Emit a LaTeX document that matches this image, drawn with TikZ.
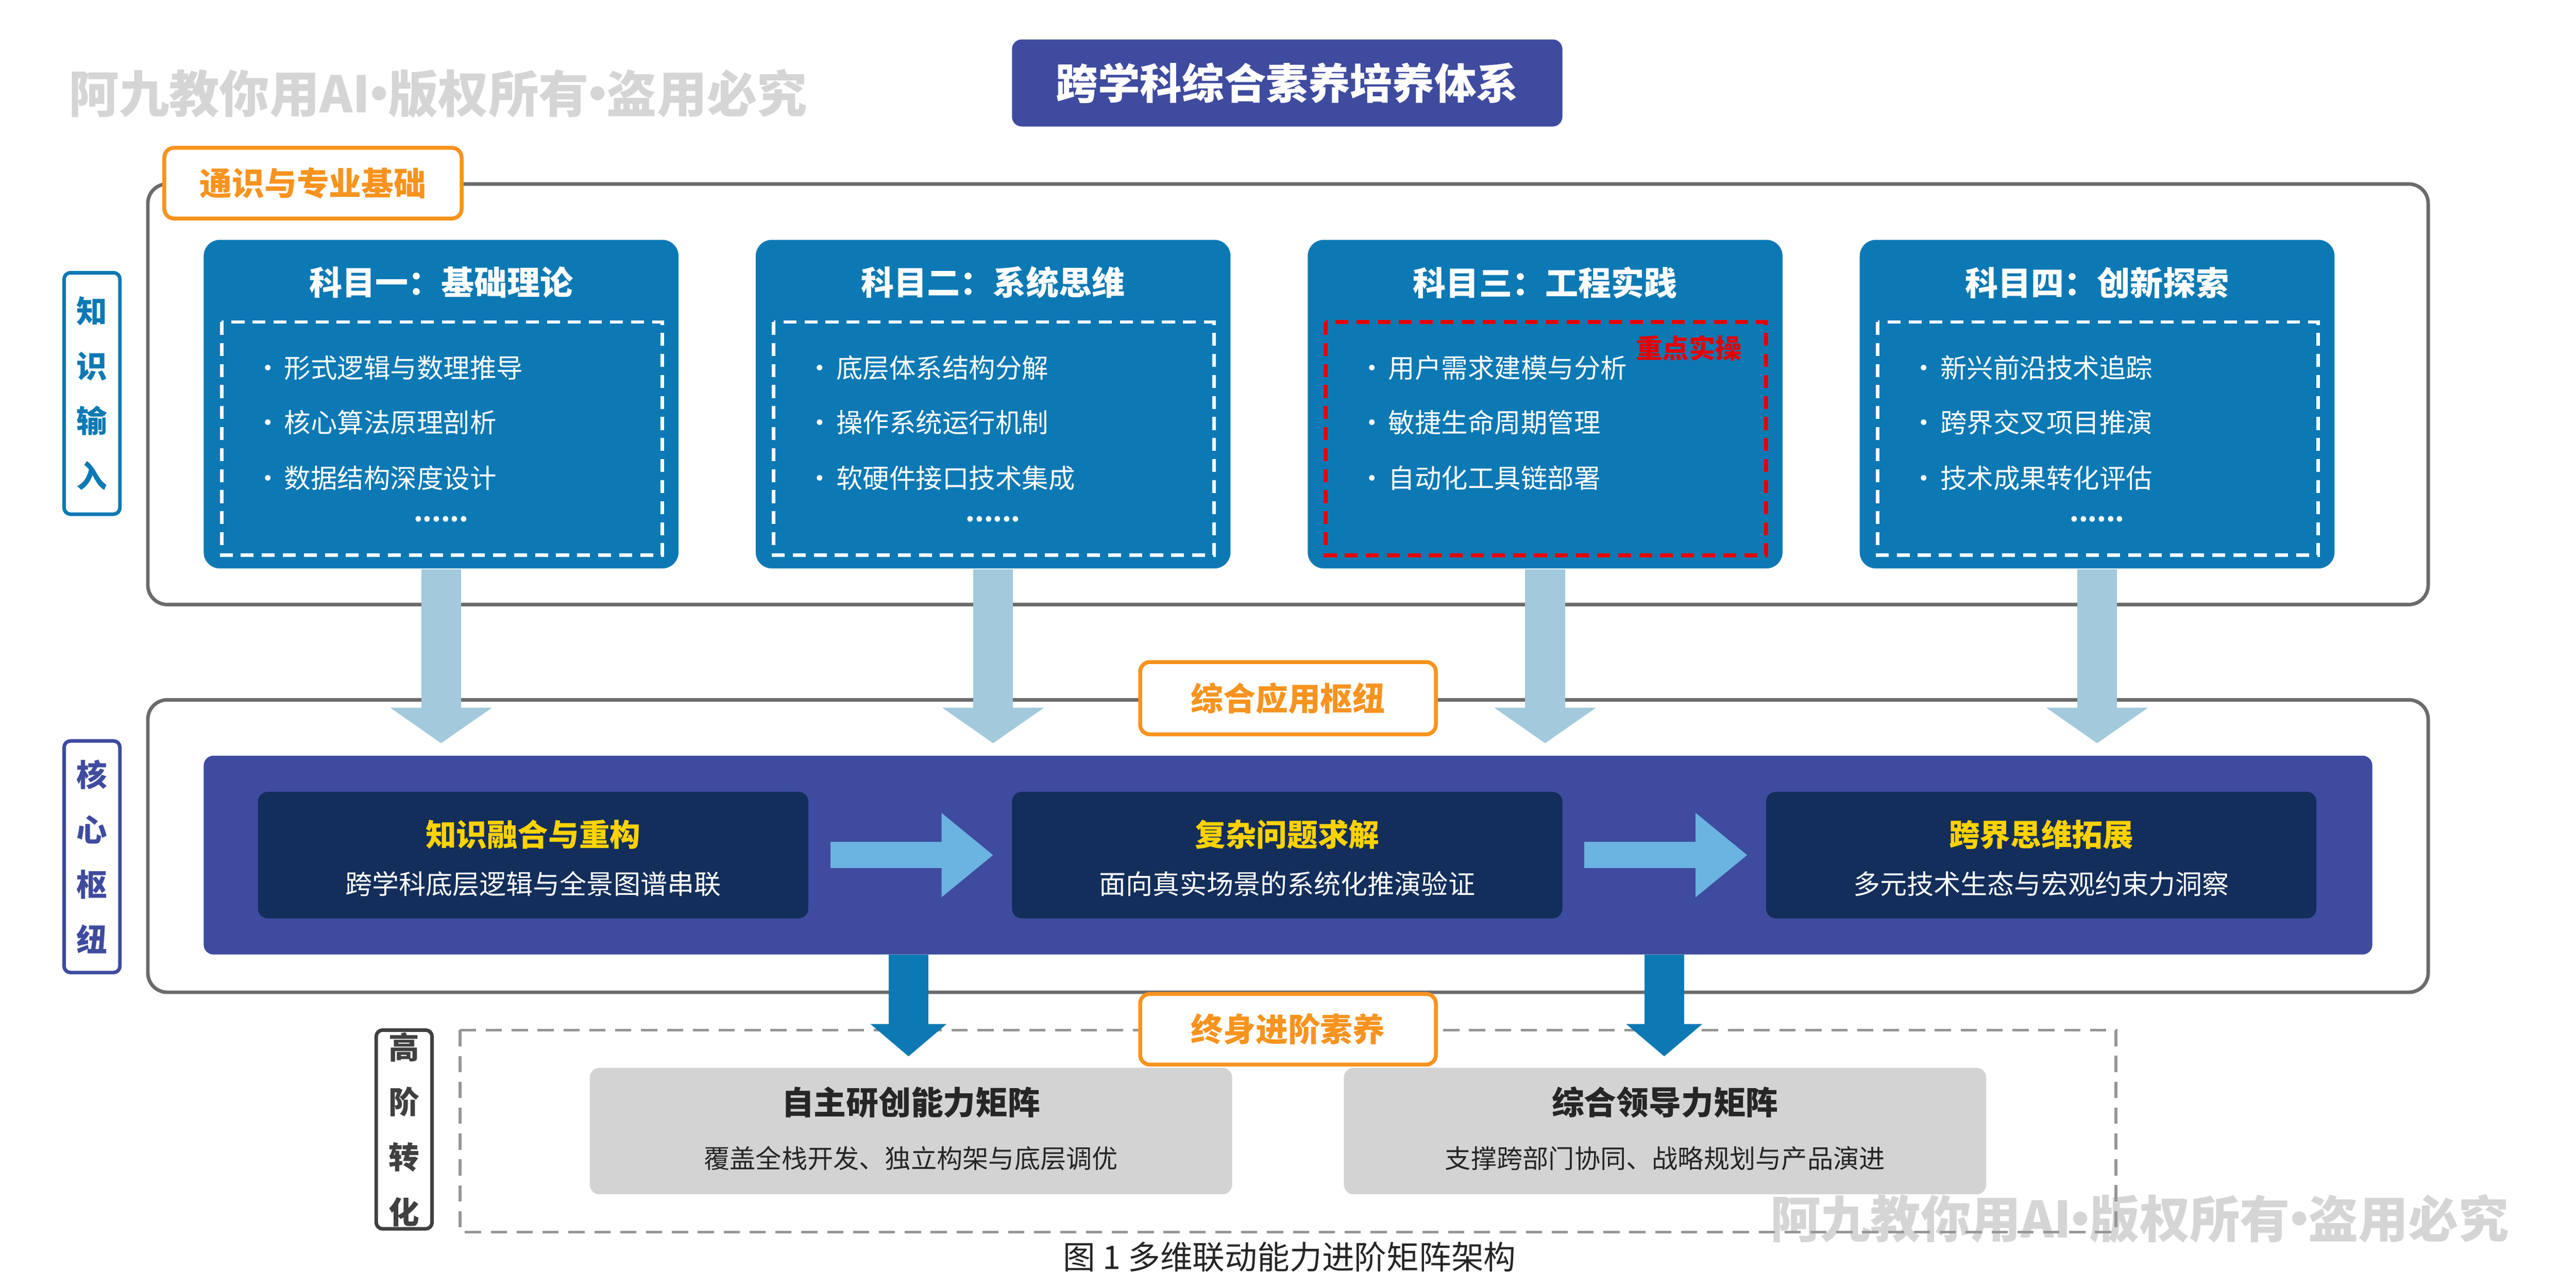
\documentclass[tikz,border=0pt]{standalone}
\usepackage{fontspec}
\setmainfont{Noto Sans CJK SC}
\usetikzlibrary{arrows.meta}
\definecolor{indigo}{HTML}{3F4B9F}
\definecolor{sblue}{HTML}{0D79B4}
\definecolor{lblue}{HTML}{A3C9DC}
\definecolor{rblue}{HTML}{6BB3E0}
\definecolor{navy}{HTML}{132E5B}
\definecolor{gold}{HTML}{FFD200}
\definecolor{orng}{HTML}{F7931E}
\definecolor{frame}{HTML}{6B6B6B}
\definecolor{gbox}{HTML}{D3D3D3}
\definecolor{wm}{HTML}{D5D5D5}
\newcommand\U{0.017857cm}
\newcommand\md{\hspace{-0.32em}·\hspace{-0.32em}}
\tikzset{
 frm/.style={draw=frame,line width=1.1pt,rounded corners=6pt},
 tag/.style={draw=orng,fill=white,line width=1.2pt,rounded corners=3pt,text=orng,font=\fontsize{10}{12}\selectfont\bfseries,inner sep=0pt},
 side/.style={draw=#1,line width=1.1pt,rounded corners=2pt,fill=white,text=#1,font=\fontsize{9.5}{17}\selectfont\bfseries,align=center,inner sep=0pt},
 subj/.style={fill=sblue,rounded corners=5pt,inner sep=0pt},
 itm/.style={text=white,font=\fontsize{8.2}{10}\selectfont,anchor=west},
 stitle/.style={text=white,font=\fontsize{10.2}{12}\selectfont\bfseries},
 dk/.style={fill=navy,rounded corners=3pt,inner sep=0pt},
 gb/.style={fill=gbox,rounded corners=3pt,inner sep=0pt},
 darr/.style={draw=lblue,line width=12.3pt,-{Triangle[width=31pt,length=11pt]}},
 barr/.style={draw=sblue,line width=12.3pt,-{Triangle[width=23pt,length=10pt]}},
 rarr/.style={draw=rblue,line width=8.2pt,-{Triangle[width=25pt,length=16pt]}},
 wmk/.style={text=wm,font=\fontsize{15.5}{18}\selectfont\bfseries}
}
\begin{document}
\begin{tikzpicture}[x=\U,y=-\U]
\useasboundingbox (0,0) rectangle (1568,784);
\fill[white] (0,0) rectangle (1568,784);
% watermarks
\node[wmk,anchor=west] (wm1) at (35,57) {阿九教你用AI\md 版权所有\md 盗用必究};
\node[wmk,anchor=east] (wm2) at (1534,742) {阿九教你用AI\md 版权所有\md 盗用必究};
% title
\node[fill=indigo,rounded corners=3pt,minimum width=335*\U,minimum height=53*\U,text=white,font=\fontsize{13}{15}\selectfont\bfseries] (title) at (783.5,50.5) {跨学科综合素养培养体系};
% frames
\draw[frm] (90,112) rectangle (1478,368);
\draw[frm] (90,426) rectangle (1478,604);
\draw[draw=frame!70,line width=0.9pt,dash pattern=on 5pt off 3pt] (280,627) rectangle (1288,750);
% side labels
\node[side=sblue,minimum width=34*\U,minimum height=147*\U] (s1) at (56,239.5) {知\\识\\输\\入};
\node[side=indigo,minimum width=34*\U,minimum height=141*\U] (s2) at (56,521.5) {核\\心\\枢\\纽};
\node[side=black!75,minimum width=34*\U,minimum height=121*\U] (s3) at (246,687.5) {高\\阶\\转\\化};
% subjects
\foreach \n/\x/\t/\a/\b/\c/\dots in {
 1/124/科目一：基础理论/形式逻辑与数理推导/核心算法原理剖析/数据结构深度设计/1,
 2/460/科目二：系统思维/底层体系结构分解/操作系统运行机制/软硬件接口技术集成/1,
 3/796/科目三：工程实践/用户需求建模与分析/敏捷生命周期管理/自动化工具链部署/0,
 4/1132/科目四：创新探索/新兴前沿技术追踪/跨界交叉项目推演/技术成果转化评估/1}{
 \node[subj,minimum width=289*\U,minimum height=200*\U] (sub\n) at (\x+144.5,246) {};
 \node[stitle] (st\n) at (\x+144.5,172) {\t};
 \node[itm] (ia\n) at (\x+24,224) {·\hspace{1pt}\a};
 \node[itm] (ib\n) at (\x+24,257) {·\hspace{1pt}\b};
 \node[itm] (ic\n) at (\x+24,291) {·\hspace{1pt}\c};
 \ifnum\dots=1
  \node[text=white,font=\fontsize{8}{10}\selectfont\bfseries] (dt\n) at (\x+144.5,316) {......};
  \draw[white,line width=1.1pt,dash pattern=on 4pt off 2.5pt] (\x+11,196) rectangle (\x+279,338);
 \else
  \draw[red!90!black,line width=1.3pt,dash pattern=on 4pt off 2.5pt] (\x+11,196) rectangle (\x+279,338);
  \node[text=red!90!black,font=\fontsize{8.2}{10}\selectfont\bfseries] (key) at (\x+232,212) {重点实操};
 \fi
}
% tags
\node[tag,minimum width=181*\U,minimum height=43*\U] (tag1) at (190.5,111.5) {通识与专业基础};
% down arrows
\foreach \n in {1,2,3,4}{
 \coordinate (dd\n) at ([yshift=-106*\U]sub\n.south);
 \draw[darr] (sub\n.south) -- (dd\n);
}
\node[tag,minimum width=180*\U,minimum height=44*\U] (tag2) at (784,425) {综合应用枢纽};
% core panel
\node[fill=indigo,minimum width=1320*\U,minimum height=121*\U,rounded corners=3pt] (panel) at (784,520.5) {};
\foreach \n/\x/\t/\s in {1/157/知识融合与重构/跨学科底层逻辑与全景图谱串联,2/616/复杂问题求解/面向真实场景的系统化推演验证,3/1075/跨界思维拓展/多元技术生态与宏观约束力洞察}{
 \node[dk,minimum width=335*\U,minimum height=77*\U] (c\n) at (\x+167.5,520.5) {};
 \node[text=gold,font=\fontsize{9.5}{11}\selectfont\bfseries] (ct\n) at (\x+167.5,508) {\t};
 \node[text=white,font=\fontsize{8.3}{10}\selectfont] (cs\n) at (\x+167.5,538) {\s};
}
\draw[rarr] ([xshift=13*\U]c1.east) -- ([xshift=-11*\U]c2.west);
\draw[rarr] ([xshift=13*\U]c2.east) -- ([xshift=-11*\U]c3.west);
% blue down arrows
\coordinate (p1) at (553,581); \coordinate (q1) at (553,643);
\coordinate (p2) at (1013,581); \coordinate (q2) at (1013,643);
\draw[barr] (p1) -- (q1);
\draw[barr] (p2) -- (q2);
\node[tag,minimum width=180*\U,minimum height=43*\U] (tag3) at (784,626.5) {终身进阶素养};
% gray boxes
\foreach \n/\x/\t/\s in {1/359/自主研创能力矩阵/覆盖全栈开发、独立构架与底层调优,2/818/综合领导力矩阵/支撑跨部门协同、战略规划与产品演进}{
 \node[gb,minimum width=391*\U,minimum height=77*\U] (g\n) at (\x+195.5,688.5) {};
 \node[text=black!85,font=\fontsize{10}{12}\selectfont\bfseries] (gt\n) at (\x+195.5,671) {\t};
 \node[text=black!85,font=\fontsize{8}{10}\selectfont] (gs\n) at (\x+195.5,705) {\s};
}
\node[text=black!85,font=\fontsize{10}{12}\selectfont] (cap) at (785,765) {图 1 多维联动能力进阶矩阵架构};
\end{tikzpicture}
\end{document}
